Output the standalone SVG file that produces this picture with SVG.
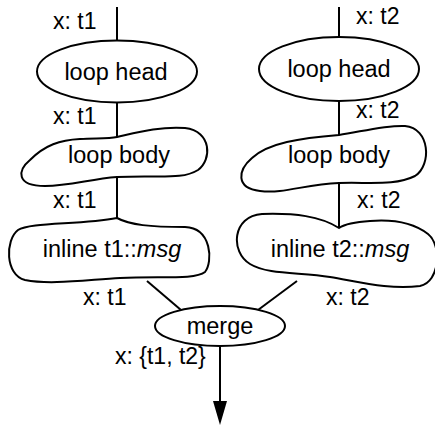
<svg xmlns="http://www.w3.org/2000/svg" width="435" height="429" viewBox="0 0 435 429">
<style>
.n{fill:#fff;stroke:#000;stroke-width:2}
.e{fill:none;stroke:#000;stroke-width:2}
text{font-family:"Liberation Sans",Arial,sans-serif;font-size:23px;fill:#000}
.c{text-anchor:middle;font-size:23.5px}
</style>
<rect width="435" height="429" fill="#fff"/>
<g id="connectors">
<line class="e" x1="117" y1="7" x2="117" y2="40"/>
<line class="e" x1="117" y1="103" x2="117" y2="137"/>
<line class="e" x1="117" y1="177" x2="117" y2="218"/>
<line class="e" x1="147" y1="281" x2="181" y2="310"/>
<line class="e" x1="339" y1="7" x2="339" y2="37"/>
<line class="e" x1="339" y1="101" x2="339" y2="135"/>
<line class="e" x1="339" y1="183" x2="339" y2="228"/>
<line class="e" x1="297" y1="281" x2="258" y2="310"/>
<line class="e" x1="220" y1="347" x2="220" y2="406"/>
<polygon points="213,401 227,401 220,425" fill="#000"/>
<text x="53" y="29">x: t1</text>
<text x="53" y="124">x: t1</text>
<text x="53" y="208">x: t1</text>
<text x="83" y="305">x: t1</text>
<text x="356" y="24">x: t2</text>
<text x="356" y="118">x: t2</text>
<text x="357" y="208">x: t2</text>
<text x="326" y="305">x: t2</text>
<text x="115" y="364">x: {t1, t2}</text>
</g>
<g id="loop-head-1">
<ellipse class="n" cx="117" cy="71.5" rx="80" ry="31"/>
<text class="c" x="116" y="80">loop head</text>
</g>
<g id="loop-body-1">
<path class="n" d="M117,137 C135,133 160,126 185,128 C212,131 212,160 198,170 C182,180 160,175 117,177 C90,179 70,186 45,186 C15,186 18,170 30,160 C45,145 60,140 80,139 C95,138 108,139 117,137 Z"/>
<text class="c" x="119" y="163">loop body</text>
</g>
<g id="inline-1">
<path class="n" d="M117,218 C130,225 150,227 185,227 C212,228 213,262 205,272 C195,280 160,276 120,278 C85,280 50,285 25,280 C5,275 5,240 18,230 C30,222 80,225 117,218 Z"/>
<text class="c" x="112" y="257">inline t1::<tspan font-style="italic">msg</tspan></text>
</g>
<g id="loop-head-2">
<ellipse class="n" cx="339" cy="69" rx="80" ry="32"/>
<text class="c" x="339" y="77">loop head</text>
</g>
<g id="loop-body-2">
<path class="n" d="M339,135 C360,132 385,125 405,126 C430,128 432,165 415,176 C395,186 370,182 339,183 C305,184 285,194 260,191 C235,188 238,170 252,158 C268,143 300,138 339,135 Z"/>
<text class="c" x="339" y="163">loop body</text>
</g>
<g id="inline-2">
<path class="n" d="M339,228 C320,216 295,213 262,214 C232,216 230,252 250,264 C268,275 300,272 330,277 C360,282 390,290 420,286 C440,282 442,245 428,234 C415,224 395,219 370,221 C355,222 345,224 339,228 Z"/>
<text class="c" x="340" y="257">inline t2::<tspan font-style="italic">msg</tspan></text>
</g>
<g id="merge">
<ellipse class="n" cx="220" cy="326" rx="65" ry="20"/>
<text class="c" x="220" y="334">merge</text>
</g>
</svg>
